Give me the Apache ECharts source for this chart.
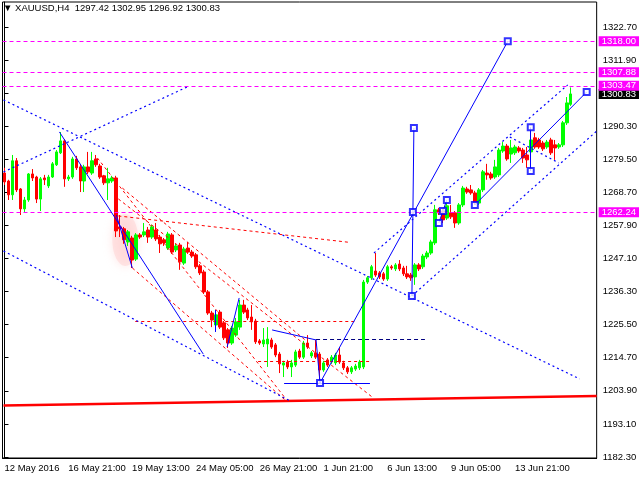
<!DOCTYPE html>
<html><head><meta charset="utf-8">
<script src="https://cdn.jsdelivr.net/npm/echarts@6/dist/echarts.min.js"></script>
<style>html,body{margin:0;padding:0;background:#fff}#c{width:640px;height:480px}</style>
</head><body><div id="c"></div>
<script>
// ---------------- data ----------------
const header = ['XAUUSD,H4', 1297.42, 1302.95, 1296.92, 1300.83];
const tickLabels = ['12 May 2016','16 May 21:00','19 May 13:00','24 May 05:00','26 May 21:00','1 Jun 21:00','6 Jun 13:00','9 Jun 05:00','13 Jun 21:00'];
const barsPerTick = 16;
const yTicks = [1182.30,1193.10,1203.90,1214.70,1225.50,1236.30,1247.10,1257.90,1268.70,1279.50,1290.30,1301.10,1311.90,1322.70];
const levels = [1318.00, 1307.88, 1303.47, 1262.24];
const lastPrice = 1300.83;
// [open, close, low, high]
const candles = [
[1275.0,1272.1,1271.1,1276.7],[1272.4,1267.9,1266.2,1272.8],[1267.9,1279.0,1266.2,1280.9],[1279.0,1269.5,1268.8,1279.9],
[1269.8,1263.3,1261.3,1270.1],[1263.3,1266.2,1262.3,1267.2],[1266.2,1274.7,1265.6,1275.0],[1274.7,1273.4,1272.4,1276.3],
[1273.7,1266.5,1265.2,1274.1],[1266.5,1273.1,1262.6,1273.7],[1273.4,1272.8,1271.1,1274.4],[1270.8,1273.7,1270.1,1274.4],
[1273.7,1278.0,1273.4,1278.6],[1277.7,1281.9,1277.3,1282.5],[1281.6,1285.5,1281.2,1288.4],[1285.5,1273.1,1270.5,1286.1],
[1273.1,1273.7,1272.4,1274.4],[1273.7,1279.6,1273.1,1280.3],[1279.6,1276.7,1276.0,1280.6],[1277.0,1272.4,1268.8,1277.7],
[1272.4,1277.0,1268.8,1277.7],[1277.0,1275.4,1274.7,1281.9],[1275.0,1279.0,1274.4,1281.9],[1279.6,1277.7,1277.0,1280.9],
[1277.3,1273.7,1273.1,1278.0],[1274.1,1271.8,1271.1,1274.4],[1271.8,1273.1,1266.2,1276.7],[1272.4,1273.4,1271.8,1274.1],
[1273.4,1256.1,1254.1,1274.1],[1257.4,1256.8,1254.1,1261.3],[1256.8,1253.2,1251.9,1257.4],[1252.5,1255.8,1251.2,1256.4],
[1253.8,1246.6,1244.0,1254.5],[1246.9,1254.8,1246.3,1255.4],[1254.8,1254.1,1253.5,1255.4],[1254.8,1255.8,1254.1,1258.7],
[1256.4,1254.1,1252.2,1257.4],[1254.1,1257.4,1253.5,1258.1],[1256.4,1253.5,1252.8,1258.7],[1254.1,1251.9,1248.9,1254.8],
[1253.2,1252.2,1251.2,1253.8],[1250.5,1255.1,1249.9,1255.8],[1254.8,1249.2,1248.6,1255.4],[1249.9,1251.2,1249.2,1251.9],
[1251.5,1246.0,1243.4,1252.2],[1245.6,1250.2,1245.0,1250.9],[1250.5,1249.2,1248.6,1252.5],[1249.2,1247.9,1247.3,1249.9],
[1248.3,1244.4,1243.7,1248.9],[1244.7,1242.4,1241.7,1245.3],[1242.7,1236.2,1235.5,1243.4],[1236.2,1229.3,1228.7,1236.8],
[1229.3,1227.0,1224.7,1230.0],[1225.4,1228.7,1223.8,1230.3],[1229.6,1224.7,1224.1,1230.3],[1226.1,1221.2,1220.5,1226.7],
[1223.8,1219.5,1217.9,1224.4],[1219.5,1224.4,1218.9,1225.1],[1222.1,1226.4,1221.5,1227.7],[1224.7,1231.9,1223.8,1233.6],
[1231.9,1229.6,1229.0,1233.6],[1230.3,1227.7,1227.0,1231.0],[1228.0,1226.4,1223.8,1231.9],[1226.7,1219.9,1219.2,1227.4],
[1220.2,1219.5,1218.9,1220.8],[1219.2,1220.5,1218.2,1224.4],[1219.2,1220.8,1211.7,1224.7],[1220.5,1218.2,1217.6,1221.2],
[1218.9,1215.6,1214.9,1219.5],[1215.9,1212.7,1209.7,1216.6],[1212.3,1213.0,1208.4,1213.7],[1213.3,1211.7,1211.0,1214.0],
[1211.7,1213.0,1208.4,1214.0],[1212.3,1216.6,1211.7,1217.3],[1216.9,1214.9,1214.3,1217.6],[1214.9,1219.5,1214.3,1220.2],
[1219.5,1218.2,1217.6,1222.1],[1215.3,1216.3,1214.6,1216.9],[1216.3,1214.9,1214.3,1220.5],[1215.9,1210.7,1206.5,1216.6],
[1210.7,1213.0,1210.1,1213.7],[1214.0,1212.3,1211.7,1214.6],[1213.3,1214.9,1212.7,1215.6],[1213.0,1215.6,1212.3,1216.3],
[1215.6,1213.3,1212.7,1218.2],[1213.0,1211.4,1210.7,1213.7],[1211.4,1210.1,1209.4,1212.0],[1210.1,1211.4,1209.4,1212.0],
[1211.0,1212.0,1210.4,1212.7],[1211.4,1213.3,1210.7,1214.0],[1211.7,1239.4,1211.0,1240.1],[1239.4,1240.8,1238.8,1241.4],
[1240.8,1244.4,1240.1,1245.0],[1243.0,1241.7,1241.1,1248.9],[1242.4,1241.1,1240.4,1243.0],[1242.1,1240.4,1239.8,1242.7],
[1240.4,1244.4,1239.8,1245.0],[1244.4,1244.0,1243.4,1245.0],[1243.7,1245.0,1243.0,1245.6],[1245.3,1243.7,1243.0,1246.6],
[1244.0,1242.1,1241.4,1244.7],[1242.1,1241.1,1240.4,1244.7],[1241.7,1240.8,1239.8,1242.4],[1241.1,1245.0,1238.5,1245.6],
[1245.0,1243.7,1243.0,1245.6],[1244.4,1247.9,1243.7,1248.6],[1247.6,1248.9,1246.9,1249.6],[1248.9,1252.5,1248.3,1253.2],
[1252.2,1263.0,1251.5,1264.6],[1263.0,1262.0,1261.3,1263.6],[1262.6,1259.7,1258.7,1263.3],[1260.3,1264.3,1259.7,1265.2],
[1262.0,1260.7,1260.0,1264.6],[1262.0,1258.7,1257.1,1262.6],[1258.7,1264.6,1258.1,1265.2],[1264.6,1270.1,1263.9,1270.8],
[1269.8,1268.8,1268.2,1270.5],[1269.5,1268.5,1267.9,1271.1],[1268.5,1265.2,1264.6,1269.2],[1265.2,1269.5,1264.6,1270.1],
[1269.5,1275.4,1268.8,1276.0],[1275.0,1274.4,1272.8,1278.0],[1274.7,1273.4,1272.8,1275.4],[1273.7,1277.0,1273.1,1279.3],
[1274.4,1282.5,1273.7,1283.2],[1282.2,1283.8,1281.6,1285.1],[1283.8,1279.6,1279.0,1284.5],[1281.2,1283.2,1278.3,1285.8],
[1281.6,1283.5,1280.9,1284.2],[1283.2,1282.2,1281.6,1283.8],[1282.5,1279.9,1278.3,1283.2],[1280.9,1279.3,1276.7,1283.5],
[1281.9,1285.8,1281.2,1286.5],[1286.5,1283.5,1282.9,1288.1],[1285.8,1283.5,1282.9,1286.5],[1284.8,1282.9,1282.2,1285.5],
[1283.5,1285.1,1282.9,1285.8],[1285.8,1281.6,1280.9,1286.5],[1284.2,1283.2,1279.3,1285.8],[1283.5,1284.2,1282.9,1284.8],
[1284.2,1291.4,1283.5,1292.0],[1291.4,1297.9,1290.7,1299.8],[1297.42,1300.83,1296.92,1302.95]
];
// drawn objects: [barIndex, price] endpoints
const blueDotted = [
  [[-0.25,1298.87],[144.24,1207.78]],
  [[-0.25,1275.36],[45.83,1303.11]],
  [[-0.25,1249.57],[71.62,1200.60]],
  [[92.66,1248.92],[141.24,1303.77]],
  [[102.17,1234.87],[148.5,1288.70]],
  [[126.71,1286.78],[138.98,1278.30]]
];
const blueSolid = [
  [[13.77,1288.42],[49.83,1215.94]],
  [[28.05,1261.32],[32.05,1244.02]],
  [[52.84,1230.31],[52.84,1223.12]],
  [[55.84,1218.23],[58.85,1234.22]],
  [[67.11,1223.78],[78.13,1220.51]],
  [[78.13,1220.51],[79.13,1206.47]],
  [[70.12,1206.47],[91.65,1206.47]],
  [[79.13,1206.47],[126.21,1318.00]],
  [[102.67,1289.72],[102.17,1234.87]],
  [[108.93,1258.71],[109.94,1262.63]],
  [[109.94,1262.63],[110.94,1266.22]],
  [[117.95,1264.59],[146.00,1301.48]],
  [[131.97,1289.95],[131.97,1275.69]]
];
const redDashed = [
  [[28.55,1260.99],[86.65,1252.35]],
  [[32.80,1226.72],[87.90,1226.72]],
  [[63.60,1213.49],[91.65,1213.49]],
  [[23.29,1279.93],[70.37,1201.57]],
  [[32.05,1244.02],[70.37,1200.92]],
  [[28.55,1266.55],[92.08,1202.00]],
  [[29.55,1270.10],[75.40,1220.50]]
];
const navyDashed = [
  [[78.13,1220.84],[105.43,1220.84]]
];
const redThick = [
  [[-0.25,1199.13],[148.5,1202.23]]
];
const squares = [
  [79.13,1206.47],[102.42,1262.30],[126.21,1318.00],[102.17,1234.87],[102.67,1289.72],
  [108.93,1258.71],[109.94,1262.63],[110.94,1266.22],[117.95,1264.59],[146.00,1301.48],
  [131.97,1289.95],[131.97,1275.69]
];
const glow = [[30.3,1253.16]];

// ---------------- chart ----------------
const FONT = 'Liberation Sans';
const nSlots = candles.length + 6;
const categories = Array.from({length: nSlots}, (_, i) =>
  (i % barsPerTick === 0 && tickLabels[i / barsPerTick]) ? tickLabels[i / barsPerTick] : '');
const tickFn = (i) => i % barsPerTick === 0 && (i / barsPerTick) < tickLabels.length;

function linesSeries(segs, color, type, width, z) {
  return {
    type: 'lines', coordinateSystem: 'cartesian2d', xAxisIndex: 1, yAxisIndex: 0,
    polyline: false, silent: true, z: z, animation: false,
    lineStyle: {color: color, type: type, width: width, opacity: 1},
    data: segs.map(s => ({coords: s}))
  };
}

const markData = [{
  yAxis: lastPrice,
  lineStyle: {color: 'transparent', width: 0},
  label: {backgroundColor: '#000000'}
}].concat(levels.map(v => ({
  yAxis: v,
  lineStyle: {color: '#FF00FF', type: [4, 3], width: 1},
  label: {backgroundColor: '#FF00FF'}
})));

const chart = echarts.init(document.getElementById('c'), null, {renderer: 'canvas'});
chart.setOption({
  animation: false,
  backgroundColor: '#ffffff',
  title: {
    text: '\u25BC ' + header[0] + '  ' + header.slice(1).map(v => v.toFixed(2)).join(' '),
    left: 3, top: 3, padding: 0,
    textStyle: {fontFamily: FONT, fontSize: 9.5, fontWeight: 'normal', color: '#000'}
  },
  grid: {left: 2.5, top: 2, right: 41.5, bottom: 22, show: true, borderColor: '#000', borderWidth: 1, backgroundColor: '#fff'},
  xAxis: [{
    type: 'category', data: categories, boundaryGap: true,
    axisLine: {lineStyle: {color: '#000', width: 1}},
    axisTick: {interval: tickFn, alignWithLabel: true, length: 4, lineStyle: {color: '#000'}},
    axisLabel: {interval: tickFn, align: 'left', margin: 5, color: '#000', fontFamily: FONT, fontSize: 9.5},
    splitLine: {show: false}
  }, {
    type: 'value', min: -0.5, max: nSlots - 0.5, show: false
  }],
  yAxis: {
    type: 'value', position: 'right', min: 1181.97, max: 1330.84,
    axisLine: {show: true, lineStyle: {color: '#000'}},
    axisTick: {show: true, customValues: yTicks, length: 4, lineStyle: {color: '#000'}},
    axisLabel: {customValues: yTicks, formatter: v => v.toFixed(2), margin: 6, color: '#000', fontFamily: FONT, fontSize: 9.5},
    splitLine: {show: false}
  },
  series: [
    {
      type: 'scatter', xAxisIndex: 1, data: glow, symbol: 'circle', symbolSize: [26, 52], z: 1, silent: true,
      itemStyle: {color: 'rgba(255,205,205,0.55)', shadowBlur: 10, shadowColor: 'rgba(255,190,190,0.9)'}
    },
    {
      type: 'candlestick', data: candles, barWidth: 3, z: 3,
      itemStyle: {color: '#00FF00', color0: '#FF0000', borderColor: '#00FF00', borderColor0: '#FF0000', borderWidth: 1},
      markLine: {
        silent: true, symbol: ['none', 'none'], animation: false,
        label: {show: true, position: 'end', distance: 2, formatter: p => p.value.toFixed(2),
          color: '#fff', padding: [1, 3, 0, 3], fontFamily: FONT, fontSize: 9.5, lineHeight: 9},
        data: markData
      }
    },
    linesSeries(redThick, '#FF0000', 'solid', 2.5, 2),
    linesSeries(redDashed, '#FF0000', [3, 3], 1, 4),
    linesSeries(blueDotted, '#0000FF', [2, 3], 1.2, 4),
    linesSeries(navyDashed, '#000080', [4, 3], 1, 4),
    linesSeries(blueSolid, '#0000FF', 'solid', 1, 5),
    {
      type: 'scatter', xAxisIndex: 1, data: squares, symbol: 'emptyRect', symbolSize: 6, z: 6, silent: true,
      itemStyle: {color: '#0000FF', borderWidth: 1}
    }
  ]
});
</script></body></html>
